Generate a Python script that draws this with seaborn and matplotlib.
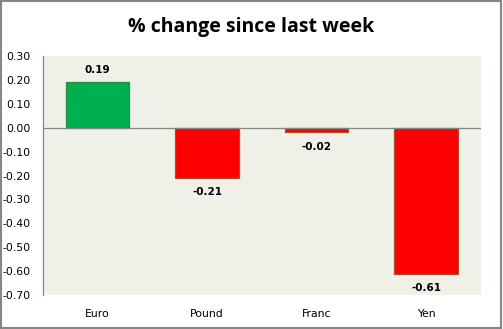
import matplotlib
matplotlib.use("Agg")
import matplotlib.pyplot as plt
import seaborn as sns
import pandas as pd
from matplotlib.patches import Rectangle

categories = ["Euro", "Pound", "Franc", "Yen"]
values = [0.19, -0.21, -0.02, -0.61]
yticks = [0.30, 0.20, 0.10, 0.00, -0.10, -0.20, -0.30, -0.40, -0.50, -0.60, -0.70]

sns.set_style("white")
plt.rcParams['font.family'] = ['DejaVu Sans']

df = pd.DataFrame({"cat": categories, "val": values})
colors = {c: ("#00B050" if v >= 0 else "#FF0000") for c, v in zip(categories, values)}

fig = plt.figure(figsize=(5.03, 3.29), dpi=100)
fig.patch.set_facecolor("white")
ax = fig.add_axes([0.0855, 0.1033, 0.8705, 0.7265])
ax.set_facecolor("#EFF0E8")

sns.barplot(data=df, x="cat", y="val", hue="cat", palette=colors, legend=False,
            width=0.58, ax=ax, saturation=1)

for p, v in zip(ax.patches, values):
    p.set_edgecolor("#2E8B3E" if v >= 0 else "#A0522D")
    p.set_linewidth(0.9)

for i, v in enumerate(values):
    off = 9 if v >= 0 else -10.5
    ax.annotate(f"{v:.2f}", (i, v), xytext=(0, off), textcoords="offset points",
                ha="center", va="center", fontsize=7.5, fontweight="bold", color="#000000")

ax.set_ylim(-0.70, 0.30)
ax.set_xlim(-0.5, 3.5)
ax.set_yticks(yticks)
ax.set_yticklabels([f"{t:.2f}" for t in yticks])
ax.axhline(0, color="#868686", linewidth=0.9)
ax.set_xlabel("")
ax.set_ylabel("")
ax.tick_params(axis="both", length=0, labelsize=7.8, colors="#000000")
ax.tick_params(axis="x", pad=10)
ax.tick_params(axis="y", pad=9)
for s in ["top", "right", "bottom"]:
    ax.spines[s].set_visible(False)
ax.spines["left"].set_color("#868686")
ax.spines["left"].set_linewidth(0.9)

fig.text(0.5, 0.918, "% change since last week", ha="center", va="center",
         fontsize=14, fontweight="bold", color="#000000",
         family=["Open Sans", "DejaVu Sans"])

fig.patches.append(Rectangle((0.002, 0.003), 0.995, 0.993, transform=fig.transFigure,
                             fill=False, edgecolor="#868686", linewidth=1.5))

fig.savefig("out.png", dpi=100)
